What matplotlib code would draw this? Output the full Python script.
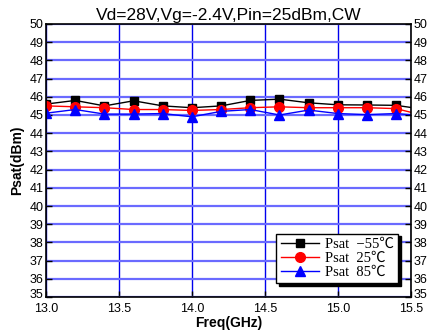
import matplotlib.pyplot as plt
import matplotlib.transforms as mtransforms
import numpy as np

freq = [13.0, 13.2, 13.4, 13.6, 13.8, 14.0, 14.2, 14.4, 14.6, 14.8, 15.0, 15.2, 15.4, 15.6]
psat_m55 = [45.6, 45.8, 45.5, 45.78, 45.5, 45.4, 45.5, 45.8, 45.87, 45.67, 45.56, 45.55, 45.53, 45.3]
psat_25 = [45.5, 45.45, 45.4, 45.3, 45.3, 45.25, 45.3, 45.4, 45.45, 45.4, 45.4, 45.4, 45.35, 44.95]
psat_85 = [45.1, 45.3, 45.05, 45.05, 45.08, 44.9, 45.2, 45.3, 45.0, 45.27, 45.08, 45.02, 45.08, 44.95]
labels = ['Psat  \u221255\u2103', 'Psat  25\u2103', 'Psat  85\u2103']
xticks = [13.0, 13.5, 14.0, 14.5, 15.0, 15.5]

fig = plt.figure(figsize=(4.31, 3.33), dpi=100)
ax = fig.add_axes([0.107, 0.108, 0.846, 0.82])

ax.plot(freq, psat_m55, color='black', marker='s', markersize=6, lw=1, label=labels[0])
ax.plot(freq, psat_25, color='red', marker='o', markersize=7, lw=1, label=labels[1])
ax.plot(freq, psat_85, color='blue', marker='^', markersize=7, lw=1, label=labels[2])

ax.set_xlim(13.0, 15.5)
ax.set_ylim(35, 50)
ax.set_xticks(xticks)
ax.set_xticklabels([f'{v:.1f}' for v in xticks])
ax.set_yticks(range(35, 51))

ax.yaxis.grid(True, color='#6a6aff', lw=1.6)
ax.xaxis.grid(True, color='#0000ee', lw=1.0)
ax.set_axisbelow(True)

for s in ax.spines.values():
    s.set_linewidth(1.2)

ax.tick_params(axis='both', direction='in', length=4, width=1.0, labelsize=9,
               right=True, labelright=True, pad=2)
ax.tick_params(axis='x', pad=4)
for t in ax.yaxis.get_major_ticks():
    t.label1.set_family('Liberation Sans')
    t.label2.set_family('Liberation Sans')
for t in ax.xaxis.get_major_ticks():
    t.label1.set_family('Liberation Sans')

# lift the bottom "35" labels a little so they clear "13.0"/"15.5"
fig.canvas.draw()
lift = mtransforms.ScaledTranslation(0, 4 / 100, fig.dpi_scale_trans)
first = ax.yaxis.get_major_ticks()[0]
first.label1.set_transform(first.label1.get_transform() + lift)
first.label2.set_transform(first.label2.get_transform() + lift)

ax.set_title('Vd=28V,Vg=-2.4V,Pin=25dBm,CW', fontsize=12.5, family='Liberation Sans', pad=3)
ax.set_xlabel('Freq(GHz)', fontsize=10, fontweight='bold', family='Liberation Sans', labelpad=1)
ax.set_ylabel('Psat(dBm)', fontsize=10, fontweight='bold', family='Liberation Sans', labelpad=4)

leg = ax.legend(loc='lower right', bbox_to_anchor=(0.965, 0.05),
                prop=dict(family=['Liberation Serif', 'Noto Sans CJK SC'], size=10.5),
                frameon=True, fancybox=False, shadow={'color': 'black', 'alpha': 1.0},
                edgecolor='black', framealpha=1, borderpad=0.3, labelspacing=0.05,
                handlelength=2.6, handletextpad=0.4, borderaxespad=0)
leg.get_frame().set_linewidth(1.0)

fig.savefig('out.png', dpi=100)
